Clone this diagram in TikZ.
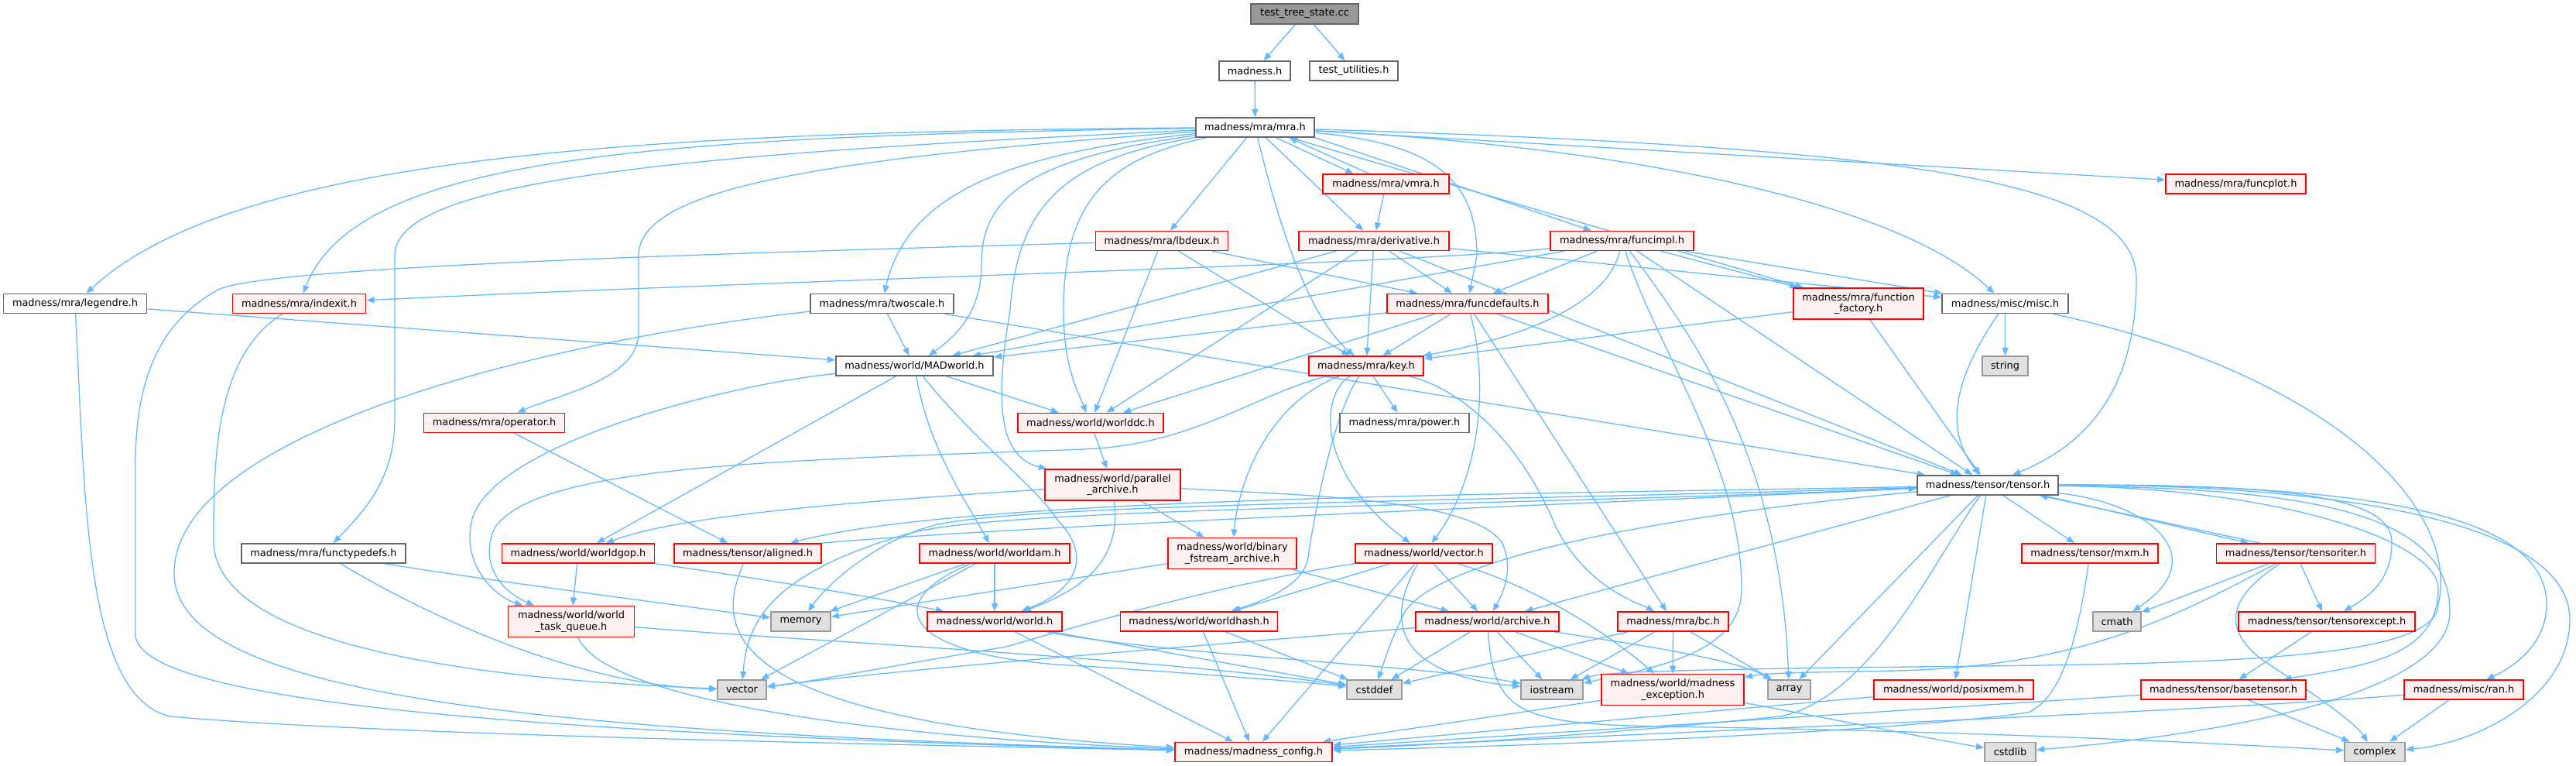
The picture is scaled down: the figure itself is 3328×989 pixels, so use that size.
\documentclass[tikz,border=0pt]{standalone}
\usepackage{fontspec}
\setmainfont{DejaVu Sans}
\usetikzlibrary{arrows.meta}
\definecolor{edgec}{HTML}{63B8FF}
\definecolor{redfill}{HTML}{FFF0F0}
\definecolor{sysfill}{HTML}{E0E0E0}
\definecolor{sysdraw}{HTML}{999999}
\definecolor{nodedraw}{HTML}{666666}
\definecolor{rootfill}{HTML}{999999}
\pgfdeclarelayer{bg}
\pgfsetlayers{bg,main}
\tikzset{
 base/.style={rectangle, inner sep=0pt, line width=0.45pt, minimum height=0.25cm, font=\fontsize{3.67pt}{4.1pt}\selectfont, align=center, text=black},
 nw/.style={base, draw=nodedraw, fill=white},
 nr/.style={base, draw=red, fill=redfill},
 ns/.style={base, draw=sysdraw, fill=sysfill},
 nroot/.style={base, draw=nodedraw, fill=rootfill},
 two/.style={minimum height=0.40cm},
 edge/.style={draw=edgec, line width=0.37pt, -{Triangle[length=2.9pt,width=2.3pt]}},
}
\begin{document}
\begin{tikzpicture}[x=0.01cm,y=-0.01cm]
\useasboundingbox (0,0) rectangle (3328,989);
% nodes
\node[nroot, minimum width=1.39cm, minimum height=0.26cm] (test) at (1685.5,18) {test\_tree\_state.cc};
\node[nw, minimum width=0.92cm] (madness) at (1621,91.5) {madness.h};
\node[nw, minimum width=1.14cm] (testutil) at (1749,91.5) {test\_utilities.h};
\node[nw, minimum width=1.53cm] (mra) at (1621.5,164.5) {madness/mra/mra.h};
\node[nr, minimum width=1.63cm] (vmra) at (1790.5,237.5) {madness/mra/vmra.h};
\node[nr, minimum width=1.81cm] (funcplot) at (2888.5,237.5) {madness/mra/funcplot.h};
\node[nr, minimum width=1.71cm] (lbdeux) at (1501,311) {madness/mra/lbdeux.h};
\node[nr, minimum width=1.94cm] (derivative) at (1775,311) {madness/mra/derivative.h};
\node[nr, minimum width=1.85cm] (funcimpl) at (2095.5,311) {madness/mra/funcimpl.h};
\node[nw, minimum width=1.85cm] (legendre) at (97,392) {madness/mra/legendre.h};
\node[nr, minimum width=1.72cm] (indexit) at (386.5,392) {madness/mra/indexit.h};
\node[nw, minimum width=1.85cm] (twoscale) at (1139.5,392) {madness/mra/twoscale.h};
\node[nr, minimum width=2.08cm] (funcdefaults) at (1896,392) {madness/mra/funcdefaults.h};
\node[nr, minimum width=1.68cm, two] (funcfactory) at (2401,392) {madness/mra/function\\\_factory.h};
\node[nw, minimum width=1.63cm] (misc) at (2590.5,392) {madness/misc/misc.h};
\node[nw, minimum width=2.03cm] (MADworld) at (1181.5,472.5) {madness/world/MADworld.h};
\node[nr, minimum width=1.48cm] (key) at (1765,472.5) {madness/mra/key.h};
\node[ns, minimum width=0.59cm] (string) at (2590.5,472.5) {string};
\node[nr, minimum width=1.82cm] (operator) at (638.5,546) {madness/mra/operator.h};
\node[nr, minimum width=1.88cm] (worlddc) at (1409,546) {madness/world/worlddc.h};
\node[nw, minimum width=1.67cm] (power) at (1814.5,546) {madness/mra/power.h};
\node[nr, minimum width=1.75cm, two] (parallel) at (1437.5,626) {madness/world/parallel\\\_archive.h};
\node[nw, minimum width=1.82cm] (tensor) at (2568,626.5) {madness/tensor/tensor.h};
\node[nw, minimum width=2.12cm] (functypedefs) at (418,714.5) {madness/mra/functypedefs.h};
\node[nr, minimum width=1.97cm] (worldgop) at (747,714.5) {madness/world/worldgop.h};
\node[nr, minimum width=1.90cm] (aligned) at (966,714.5) {madness/tensor/aligned.h};
\node[nr, minimum width=1.94cm] (worldam) at (1285,714.5) {madness/world/worldam.h};
\node[nr, minimum width=1.66cm, two] (binary) at (1592,714.5) {madness/world/binary\\\_fstream\_archive.h};
\node[nr, minimum width=1.77cm] (vectorh) at (1839.5,714.5) {madness/world/vector.h};
\node[nr, minimum width=1.76cm] (mxm) at (2700,714.5) {madness/tensor/mxm.h};
\node[nr, minimum width=2.05cm] (tensoriter) at (2966,714.5) {madness/tensor/tensoriter.h};
\node[nr, minimum width=1.63cm, two] (taskq) at (738,802.5) {madness/world/world\\\_task\_queue.h};
\node[ns, minimum width=0.77cm] (memory) at (1034.5,802.5) {memory};
\node[nr, minimum width=1.74cm] (world) at (1285,802.5) {madness/world/world.h};
\node[nr, minimum width=2.03cm] (worldhash) at (1549,802.5) {madness/world/worldhash.h};
\node[nr, minimum width=1.85cm] (archive) at (1921.5,802.5) {madness/world/archive.h};
\node[nr, minimum width=1.43cm] (bc) at (2161.5,802.5) {madness/mra/bc.h};
\node[ns, minimum width=0.62cm] (cmath) at (2735,802.5) {cmath};
\node[nr, minimum width=2.28cm] (tensorexcept) at (3006,802.5) {madness/tensor/tensorexcept.h};
\node[ns, minimum width=0.63cm] (vector) at (958.5,890.5) {vector};
\node[ns, minimum width=0.71cm] (cstddef) at (1775.5,890.5) {cstddef};
\node[ns, minimum width=0.80cm] (iostream) at (2005,890.5) {iostream};
\node[nr, minimum width=1.84cm, two] (mexception) at (2161,890.5) {madness/world/madness\\\_exception.h};
\node[ns, minimum width=0.55cm] (array) at (2311.5,890.5) {array};
\node[nr, minimum width=2.06cm] (posixmem) at (2524,890.5) {madness/world/posixmem.h};
\node[nr, minimum width=2.13cm] (basetensor) at (2872.5,890.5) {madness/tensor/basetensor.h};
\node[nr, minimum width=1.54cm] (ran) at (3183,890.5) {madness/misc/ran.h};
\node[nr, minimum width=2.03cm] (config) at (1619.5,971) {madness/madness\_config.h};
\node[ns, minimum width=0.66cm] (cstdlib) at (2597,971) {cstdlib};
\node[ns, minimum width=0.78cm] (complex) at (3068,971) {complex};
\begin{pgfonlayer}{bg}
% edges: top
\draw[edge] (test) -- (madness);
\draw[edge] (test) -- (testutil);
\draw[edge] (madness) -- (mra);
% mra
\draw[edge] (mra) .. controls (800,170) and (300,205) .. (legendre);
\draw[edge] (mra) .. controls (820,176) and (460,205) .. (indexit);
\draw[edge] (mra) .. controls (850,200) and (510,235) .. (510,330) -- (510,540) .. controls (510,620) and (470,660) .. (functypedefs);
\draw[edge] (mra) .. controls (1050,205) and (825,245) .. (825,330) -- (825,430) .. controls (825,490) and (720,510) .. (operator);
\draw[edge] (mra) .. controls (1280,200) and (1170,260) .. (twoscale);
\draw[edge] (mra) .. controls (1320,205) and (1268,260) .. (1268,340) .. controls (1268,400) and (1240,430) .. (MADworld);
\draw[edge] (mra) .. controls (1380,205) and (1315,260) .. (1305,400) .. controls (1285,520) and (1290,590) .. (parallel);
\draw[edge] (mra) .. controls (1430,205) and (1374,260) .. (1374,400) .. controls (1374,470) and (1390,500) .. (worlddc);
\draw[edge] (mra) -- (lbdeux);
\draw[edge] (mra) .. controls (1640,240) and (1680,400) .. (key);
\draw[edge] ([xshift=0.27cm]mra.south) -- ([xshift=-0.42cm]vmra.north);
\draw[edge] ([xshift=-0.22cm]vmra.north) -- ([xshift=0.44cm]mra.south);
\draw[edge] (mra) -- (derivative);
\draw[edge] (mra) .. controls (1850,185) and (1908,230) .. (1908,330) -- (funcdefaults);
\draw[edge] (mra.south east) -- (funcimpl);
\draw[edge] (mra) -- (funcfactory);
\draw[edge] (mra) .. controls (2100,190) and (2450,260) .. (misc);
\draw[edge] (mra) .. controls (2450,190) and (2760,230) .. (2760,360) .. controls (2760,520) and (2680,580) .. (tensor);
\draw[edge] (mra) -- (funcplot);
\draw[edge] (vmra) -- (derivative);
% lbdeux
\draw[edge] (lbdeux) .. controls (900,328) and (330,345) .. (280,375) .. controls (200,420) and (175,500) .. (175,600) -- (175,820) .. controls (180,900) and (600,945) .. (config);
\draw[edge] (lbdeux) -- (worlddc);
\draw[edge] (lbdeux) -- (key);
\draw[edge] (lbdeux) -- (funcdefaults);
% legendre, indexit, twoscale, operator, functypedefs
\draw[edge] (legendre) .. controls (110,650) and (110,900) .. (220,925) .. controls (500,950) and (1200,962) .. (config);
\draw[edge] (legendre) -- (MADworld);
\draw[edge] (indexit) .. controls (276,460) and (276,600) .. (276,700) .. controls (280,850) and (700,880) .. (vector);
\draw[edge] (twoscale) .. controls (700,440) and (225,560) .. (225,740) .. controls (225,900) and (700,945) .. (config);
\draw[edge] (twoscale) -- (MADworld);
\draw[edge] (twoscale) -- (tensor);
\draw[edge] (operator) -- (aligned);
\draw[edge] (functypedefs) .. controls (600,745) and (900,785) .. (memory);
\draw[edge] (functypedefs) .. controls (560,800) and (750,885) .. (vector);
% derivative
\draw[edge] (derivative) -- (MADworld);
\draw[edge] (derivative) -- (worlddc);
\draw[edge] (derivative) -- (key);
\draw[edge] (derivative) -- (funcdefaults);
\draw[edge] (derivative) -- (misc);
\draw[edge] (derivative) -- (tensor);
% funcimpl
\draw[edge] (funcimpl) .. controls (1800,342) and (1000,362) .. (indexit);
\draw[edge] (funcimpl) -- (MADworld);
\draw[edge] (funcimpl) -- (funcdefaults);
\draw[edge] (funcimpl) .. controls (2080,380) and (2000,430) .. (key);
\draw[edge] (funcimpl) -- (funcfactory);
\draw[edge] (funcimpl) -- (misc);
\draw[edge] (funcimpl) -- (tensor);
\draw[edge] (funcimpl) .. controls (2140,450) and (2250,600) .. (2250,760) .. controls (2250,840) and (2150,860) .. (iostream);
\draw[edge] (funcimpl) .. controls (2200,450) and (2300,600) .. (array);
% funcdefaults
\draw[edge] (funcdefaults) -- (MADworld);
\draw[edge] (funcdefaults) -- (worlddc);
\draw[edge] (funcdefaults) -- (key);
\draw[edge] (funcdefaults) -- (bc);
\draw[edge] (funcdefaults) -- (tensor);
\draw[edge] (funcdefaults) .. controls (1925,500) and (1910,620) .. (vectorh);
% funcfactory, misc
\draw[edge] (funcfactory) -- (key);
\draw[edge] (funcfactory) -- (tensor);
\draw[edge] (misc) -- (string);
\draw[edge] (misc) .. controls (2545,460) and (2500,540) .. (tensor);
\draw[edge] (misc) .. controls (3000,480) and (3180,650) .. (3150,780) .. controls (3150,870) and (2700,855) .. (2260,864) .. controls (2150,866) and (2070,868) .. (iostream);
% tensor
\draw[edge] (tensor) .. controls (2950,625) and (3090,640) .. (3090,700) .. controls (3090,750) and (3060,770) .. (tensorexcept);
\draw[edge] (tensor) .. controls (3000,625) and (3290,650) .. (3290,780) .. controls (3290,830) and (3250,860) .. (ran);
\draw[edge] (tensor) .. controls (3050,625) and (3320,680) .. (3320,800) .. controls (3320,900) and (3200,960) .. (complex);
\draw[edge] (tensor) .. controls (2980,630) and (3165,660) .. (3165,790) .. controls (3165,900) and (2850,950) .. (cstdlib);
\draw[edge] (tensor) .. controls (2950,630) and (3150,700) .. (3150,760) .. controls (3150,850) and (3050,860) .. (basetensor);
\draw[edge] ([xshift=0.72cm]tensor.south) -- ([xshift=-0.61cm]tensoriter.north);
\draw[edge] ([xshift=-0.46cm]tensoriter.north) -- ([xshift=0.67cm]tensor.south);
\draw[edge] (tensor) -- (mxm);
\draw[edge] (tensor) .. controls (2780,650) and (2860,720) .. (cmath);
\draw[edge] (tensor) -- (posixmem);
\draw[edge] (tensor) .. controls (2500,720) and (2420,900) .. (2300,925) .. controls (2100,945) and (1900,960) .. (config);
\draw[edge] (tensor) -- (archive);
\draw[edge] (tensor) .. controls (2150,665) and (1860,720) .. (1815,790) .. controls (1795,830) and (1790,850) .. (cstddef);
\draw[edge] (tensor) -- (array);
\draw[edge] (tensor) .. controls (2000,638) and (1250,640) .. ([xshift=0.55cm]aligned.north);
\draw[edge] (aligned.north east) .. controls (1300,680) and (2000,652) .. (tensor);
\draw[edge] (tensor) .. controls (1900,648) and (1300,650) .. (1200,680) .. controls (1120,705) and (1065,760) .. (memory);
\draw[edge] (tensor) .. controls (1900,655) and (1280,655) .. (1170,690) .. controls (1000,740) and (965,800) .. (vector);
% aligned
\draw[edge] (aligned) .. controls (930,800) and (900,930) .. (config);
% MADworld
\draw[edge] (MADworld) .. controls (950,495) and (640,570) .. (610,670) .. controls (595,730) and (640,770) .. (taskq);
\draw[edge] (MADworld) -- (worldgop);
\draw[edge] (MADworld) .. controls (1200,580) and (1250,650) .. (worldam);
\draw[edge] (MADworld) .. controls (1260,570) and (1340,630) .. (1365,670) .. controls (1410,715) and (1395,760) .. (world);
\draw[edge] (MADworld) -- (worlddc);
\draw[edge] (worlddc) -- (parallel);
% parallel
\draw[edge] (parallel) .. controls (1100,648) and (880,665) .. (worldgop);
\draw[edge] (parallel) -- (binary);
\draw[edge] (parallel) .. controls (1445,700) and (1430,750) .. (world);
\draw[edge] (parallel) .. controls (1700,640) and (1900,645) .. (1940,700) .. controls (1955,730) and (1945,760) .. (archive);
% key
\draw[edge] (key) -- (power);
\draw[edge] (key) .. controls (1705,510) and (1700,610) .. (vectorh);
\draw[edge] (key) .. controls (1640,520) and (1600,620) .. (binary);
\draw[edge] (key) .. controls (1725,530) and (1700,650) .. (1690,720) .. controls (1685,750) and (1650,770) .. (worldhash);
\draw[edge] (key) .. controls (1880,500) and (1960,560) .. (2010,680) .. controls (2050,760) and (2120,780) .. (bc);
\draw[edge] (key) .. controls (1620,510) and (1540,575) .. (1400,580) .. controls (1000,595) and (700,600) .. (640,680) .. controls (620,720) and (640,760) .. (taskq);
% worldgop, taskq
\draw[edge] (worldgop) -- (taskq);
\draw[edge] (worldgop) .. controls (900,735) and (1100,765) .. (world);
\draw[edge] (taskq) .. controls (780,900) and (1100,950) .. (config);
\draw[edge] (taskq) .. controls (1000,825) and (1500,850) .. (cstddef);
% binary, worldam, world, worldhash
\draw[edge] (binary) -- (memory);
\draw[edge] (binary) -- (archive);
\draw[edge] (worldam) -- (memory);
\draw[edge] (worldam) -- (vector);
\draw[edge] (worldam) -- (world);
\draw[edge] (worldam) .. controls (1130,780) and (1170,850) .. (1400,860) .. controls (1550,870) and (1680,880) .. (cstddef);
\draw[edge] (world) -- (config);
\draw[edge] (world) -- (cstddef);
\draw[edge] (world) .. controls (1500,845) and (1850,860) .. (iostream);
\draw[edge] (worldhash) -- (config);
\draw[edge] (worldhash) -- (cstddef);
% vector.h
\draw[edge] (vectorh) .. controls (1600,750) and (1420,800) .. (1300,835) .. controls (1150,860) and (1050,880) .. (vector);
\draw[edge] (vectorh) -- (worldhash);
\draw[edge] (vectorh) -- (config);
\draw[edge] (vectorh) .. controls (1790,800) and (1800,870) .. (iostream);
\draw[edge] (vectorh) -- (archive);
\draw[edge] (vectorh) .. controls (1990,760) and (2080,820) .. (mexception);
% archive
\draw[edge] (archive) .. controls (1600,830) and (1200,860) .. (vector);
\draw[edge] (archive) -- (cstddef);
\draw[edge] (archive) -- (iostream);
\draw[edge] (archive) -- (mexception);
\draw[edge] (archive) .. controls (2100,830) and (2240,850) .. (array);
\draw[edge] (archive) .. controls (1930,920) and (1960,935) .. (2150,938) .. controls (2600,945) and (2900,962) .. (complex);
% bc
\draw[edge] (bc) -- (cstddef);
\draw[edge] (bc) -- (iostream);
\draw[edge] (bc) -- (mexception);
\draw[edge] (bc) -- (array);
% bottom
\draw[edge] (mexception) -- (config);
\draw[edge] (mexception) .. controls (2350,925) and (2500,955) .. (cstdlib);
\draw[edge] (posixmem) -- (config);
\draw[edge] (mxm) .. controls (2685,820) and (2665,900) .. (2620,920) .. controls (2400,950) and (1900,965) .. (config);
\draw[edge] (tensoriter) -- (cmath);
\draw[edge] (tensoriter) -- (tensorexcept);
\draw[edge] (tensoriter) .. controls (2880,770) and (2870,810) .. (2920,850) .. controls (2980,890) and (3040,930) .. (complex);
\draw[edge] (tensoriter) .. controls (2820,790) and (2700,860) .. (2450,866) .. controls (2350,868) and (2290,868) .. (mexception);
\draw[edge] (tensorexcept) -- (basetensor);
\draw[edge] (basetensor) -- (config);
\draw[edge] (basetensor) -- (complex);
\draw[edge] (ran) .. controls (2900,915) and (2400,935) .. (config);
\draw[edge] (ran) -- (complex);
\end{pgfonlayer}
\end{tikzpicture}
\end{document}
